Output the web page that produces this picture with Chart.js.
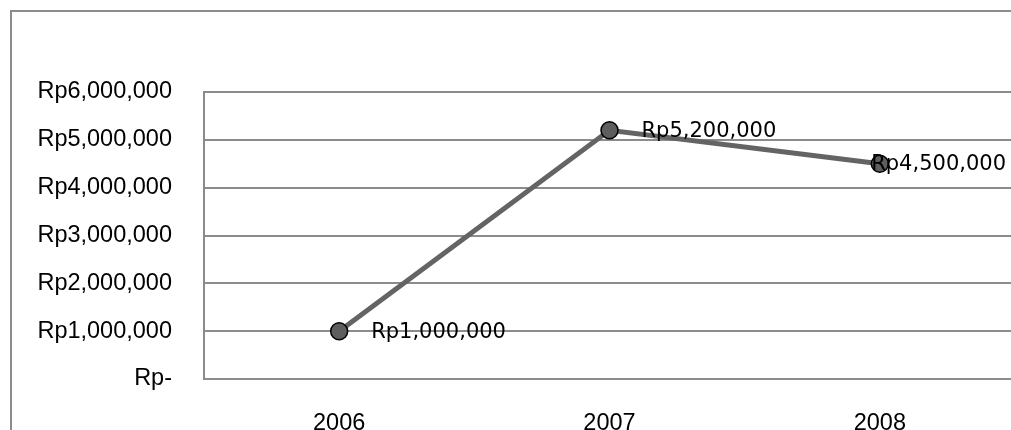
<!DOCTYPE html>
<html>
<head>
<meta charset="utf-8">
<script src="https://cdn.jsdelivr.net/npm/chart.js@4"></script>
<style>
    html, body { margin: 0; padding: 0; background: #fff; overflow: hidden; }
    #wrap { position: relative; width: 1011px; height: 430px; overflow: hidden; }
    #myChart { position: absolute; left: 0; top: 0; }
</style>
</head>
<body>
<div id="wrap">
    <canvas id="myChart" width="1040" height="430"></canvas>
</div>
<script>
// data
const years = ['2006', '2007', '2008'];
const amounts = [1000000, 5200000, 4500000];
const yTicks = [0, 1000000, 2000000, 3000000, 4000000, 5000000, 6000000];

function rupiah(v) {
    if (v === 0) return 'Rp-';
    return 'Rp' + v.toLocaleString('en-US');
}

// outer chart frame: only its left and top edges are inside the picture
const frame = {
    id: 'frame',
    beforeDraw(chart) {
        const ctx = chart.ctx;
        ctx.save();
        ctx.strokeStyle = '#8c8c8c';
        ctx.lineWidth = 2;
        ctx.beginPath();
        ctx.moveTo(11, chart.height + 5);
        ctx.lineTo(11, 11);
        ctx.lineTo(chart.width + 5, 11);
        ctx.stroke();
        ctx.restore();
    }
};

// labels on the right of each point, kept inside the window
const pointLabels = {
    id: 'pointLabels',
    afterDatasetsDraw(chart) {
        const ctx = chart.ctx;
        const meta = chart.getDatasetMeta(0);
        ctx.save();
        ctx.font = '21px "DejaVu Sans"';
        ctx.fillStyle = '#000';
        ctx.textBaseline = 'middle';
        ctx.textAlign = 'left';
        meta.data.forEach(function(pt, i) {
            const text = rupiah(amounts[i]);
            const w = ctx.measureText(text).width;
            let x = pt.x + 32;
            if (x + w > 1006) x = 1006 - w;
            ctx.fillText(text, x, pt.y + 1);
        });
        ctx.restore();
    }
};

const config = {
    type: 'line',
    data: {
        labels: years,
        datasets: [{
            data: amounts,
            borderColor: '#646464',
            borderWidth: 5,
            pointRadius: 8.5,
            pointBackgroundColor: '#5e5e5e',
            pointBorderColor: '#000',
            pointBorderWidth: 1.5,
            tension: 0
        }]
    },
    options: {
        responsive: false,
        animation: false,
        layout: { padding: { top: 92, right: 25, bottom: 0, left: 0 } },
        plugins: {
            legend: { display: false },
            tooltip: { enabled: false }
        },
        scales: {
            x: {
                offset: true,
                grid: { display: false, drawTicks: false },
                border: { display: true, color: '#8c8c8c', width: 2 },
                ticks: {
                    color: '#000',
                    font: { family: '"Liberation Sans"', size: 23.5 },
                    padding: 30,
                    maxRotation: 0
                },
                afterFit: function(scale) { scale.height = 51; }
            },
            y: {
                min: 0,
                max: 6000000,
                afterBuildTicks: function(scale) {
                    scale.ticks = yTicks.map(v => ({ value: v }));
                },
                grid: { color: '#8c8c8c', lineWidth: 2, drawTicks: false },
                border: { display: true, color: '#8c8c8c', width: 2 },
                ticks: {
                    color: '#000',
                    font: { family: '"Liberation Sans"', size: 23.5 },
                    padding: 32,
                    callback: function(v) { return rupiah(v); }
                },
                afterFit: function(scale) { scale.width = 204; }
            }
        }
    },
    plugins: [frame, pointLabels]
};

const ctx = document.getElementById('myChart').getContext('2d');
const myChart = new Chart(ctx, config);
</script>
</body>
</html>
